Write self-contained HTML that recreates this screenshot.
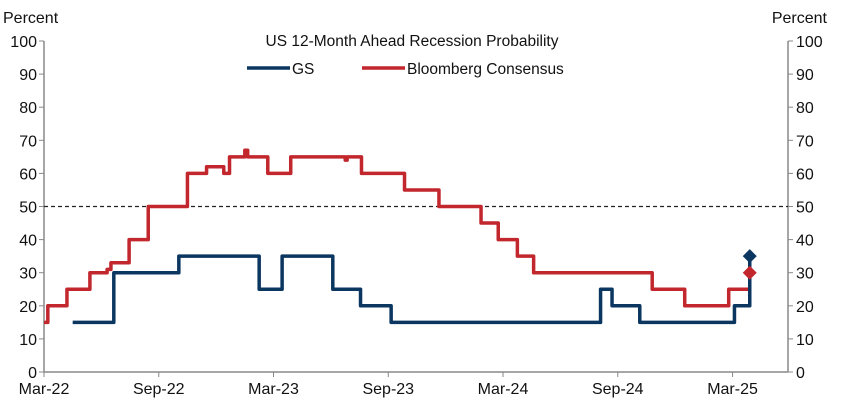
<!DOCTYPE html>
<html><head><meta charset="utf-8"><style>
body{margin:0;background:#fff;font-family:"Liberation Sans",Arial,sans-serif}
svg text{font-family:"Liberation Sans",Arial,sans-serif;fill:#111}
</style></head><body>
<svg id="c" width="841" height="414" xmlns="http://www.w3.org/2000/svg"></svg>
<script>
const yTicks=[0,10,20,30,40,50,60,70,80,90,100];
const xTickLabels=["Mar-22","Sep-22","Mar-23","Sep-23","Mar-24","Sep-24","Mar-25"];
const xTickMonths=[0,6,12,18,24,30,36];
const redMonths=[0,0.2,1.2,2.4,3.3,3.5,4.45,5.45,7.5,8.5,9.4,9.7,10.5,10.65,11.7,12.9,15.75,15.85,16.6,18.85,20.65,22.85,23.75,24.75,25.6,31.8,33.5,35.8,36.9];
const redValues=[15,20,25,30,31,33,40,50,60,62,60,65,67,65,60,65,64,65,60,55,50,45,40,35,30,25,20,25,30];
const blueMonths=[1.5,3.65,7.05,11.25,12.45,15.1,16.55,18.15,29.1,29.7,31.15,36.1,36.9];
const blueValues=[15,30,35,25,35,25,20,15,25,20,15,20,35];
const threshold=50;
const L=44,R=788,T=41,B=372,mMax=38.9;
const X=m=>L+m/mMax*(R-L);
const Y=v=>B-v/100*(B-T);
const svg=document.getElementById('c');
const NS='http://www.w3.org/2000/svg';
function mk(t,a,txt){const e=document.createElementNS(NS,t);for(const k in a)e.setAttribute(k,a[k]);if(txt!==undefined)e.textContent=txt;svg.appendChild(e);return e;}
let e;
e=mk('line',{x1:L,y1:T,x2:L,y2:B,stroke:'#888','stroke-width':1.5});


e=mk('line',{x1:R,y1:T,x2:R,y2:B,stroke:'#888','stroke-width':1.5});


e=mk('line',{x1:L,y1:B,x2:R,y2:B,stroke:'#888','stroke-width':1.5});


yTicks.forEach(v=>{
 mk('line',{x1:L-5,y1:Y(v),x2:L,y2:Y(v),stroke:'#888'});
 mk('line',{x1:R,y1:Y(v),x2:R+5,y2:Y(v),stroke:'#888'});
 e=mk('text',{x:L-7,y:Y(v)+6,'text-anchor':'end','font-size':16},v);
 
 
 e=mk('text',{x:R+8,y:Y(v)+6,'text-anchor':'start','font-size':16},v);
 
 
});
xTickMonths.forEach((m,i)=>{
 mk('line',{x1:X(m),y1:B,x2:X(m),y2:B+5,stroke:'#888'});
 e=mk('text',{x:X(m),y:B+22,'text-anchor':'middle','font-size':16},xTickLabels[i]);
 
 
});
e=mk('text',{x:3,y:23,'font-size':16},'Percent');


e=mk('text',{x:827,y:23,'font-size':16,'text-anchor':'end'},'Percent');


e=mk('line',{x1:L,y1:Y(threshold),x2:R,y2:Y(threshold),stroke:'#222','stroke-width':1.2,'stroke-dasharray':'4,3'});


function stepPath(ms,vs){let d='M'+X(ms[0])+','+Y(vs[0]);for(let i=1;i<ms.length;i++){d+=' H'+X(ms[i])+' V'+Y(vs[i]);}return d;}
e=mk('path',{d:stepPath(redMonths,redValues),fill:'none',stroke:'#c1272d','stroke-width':3.5,'stroke-linejoin':'round'});


e=mk('path',{d:stepPath(blueMonths,blueValues),fill:'none',stroke:'#0b3660','stroke-width':3.5,'stroke-linejoin':'round'});


function diamond(m,v,c){const x=X(m),y=Y(v),s=7;return mk('path',{d:`M${x},${y-s} L${x+s},${y} L${x},${y+s} L${x-s},${y} Z`,fill:c});}
e=diamond(redMonths[redMonths.length-1],redValues[redValues.length-1],'#c1272d');


e=diamond(blueMonths[blueMonths.length-1],blueValues[blueValues.length-1],'#0b3660');


e=mk('text',{x:412,y:46,'text-anchor':'middle','font-size':15.5},'US 12-Month  Ahead  Recession Probability');


e=mk('line',{x1:247,y1:68,x2:290,y2:68,stroke:'#0b3660','stroke-width':3.5});


e=mk('text',{x:292,y:74,'font-size':15.5},'GS');


e=mk('line',{x1:362,y1:68,x2:405,y2:68,stroke:'#c1272d','stroke-width':3.5});


e=mk('text',{x:407,y:74,'font-size':15.5},'Bloomberg Consensus');


</script>
</body></html>
